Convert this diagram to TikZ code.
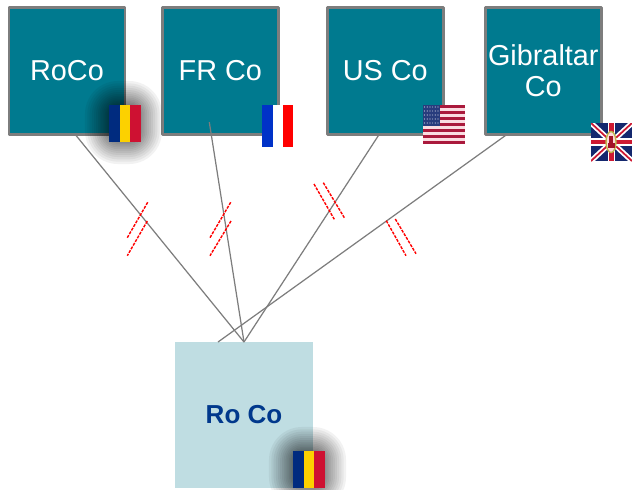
\documentclass[tikz,border=0pt]{standalone}
\usepackage{fontspec}
\setmainfont{Liberation Sans}

\definecolor{tealbox}{RGB}{0,122,143}
\definecolor{palebox}{RGB}{191,221,226}
\definecolor{boxedge}{RGB}{125,125,125}
\definecolor{navytext}{RGB}{0,56,140}
\definecolor{roblue}{RGB}{0,43,127}
\definecolor{royellow}{RGB}{252,209,0}
\definecolor{rored}{RGB}{206,17,50}
\definecolor{frblue}{RGB}{0,50,200}
\definecolor{usred}{RGB}{170,25,60}
\definecolor{uspink}{RGB}{250,220,225}
\definecolor{usnavy}{RGB}{40,60,125}
\definecolor{ukblue}{RGB}{20,40,110}
\definecolor{ukred}{RGB}{205,25,50}

\tikzset{
  company/.style={draw=boxedge, line width=1.5pt, line join=round, fill=tealbox, text=white,
    minimum width=2.32cm, minimum height=2.54cm, inner sep=0pt, outer sep=0pt, align=center,
    font=\fontsize{16.4}{18.2}\selectfont},
  target/.style={fill=palebox, text=navytext, minimum width=2.76cm, minimum height=2.92cm,
    inner sep=0pt, outer sep=0pt, font=\fontsize{14.8}{18}\selectfont\bfseries},
  link/.style={draw=boxedge, line width=0.7pt},
  cut/.style={draw=red, line width=0.8pt, dash pattern=on 1.7pt off 0.7pt}
}

% Romanian flag, top left corner at #1,#2 %
\newcommand{\roflag}[2]{
  \begin{scope}[shift={(#1,#2)}]
    \foreach \r [evaluate=\r as \grow using \r*\r*0.045+\r*0.1] in {1,...,26}
      \fill[black, opacity=0.05, rounded corners=\grow*0.02cm]
        (9-\grow,9-\grow) rectangle (20+\grow,26+\grow);
    \fill[roblue] (0,0) rectangle (10.5,37);
    \fill[royellow] (10.5,0) rectangle (21,37);
    \fill[rored] (21,0) rectangle (31.5,37);
  \end{scope}
}

\begin{document}
\begin{tikzpicture}[x=0.02cm, y=-0.02cm]
  \useasboundingbox (0,0) rectangle (632,490);

  % Boxes %
  \node [company] (roco) at (67,70.7) {RoCo};
  \node [company] (usco) at (385.3,70.7) {US Co};
  \node [company] (gibco) at (543.3,70.7) {Gibraltar\\Co};
  \node [company] (frco) at (220.3,70.7) {FR Co};
  \node [target] (rotarget) at (244,415) {Ro Co};

  % Links %
  \draw [link] ([xshift=0.16cm]roco.south) -- (rotarget.north);
  \draw [link] ([xshift=-0.22cm,yshift=0.24cm]frco.south) -- (rotarget.north);
  \draw [link] ([xshift=-0.12cm]usco.south) -- (rotarget.north);
  \draw [link] ([xshift=-0.72cm]gibco.south) -- ([xshift=-0.52cm]rotarget.north);

  % Cuts %
  \draw [cut] (147.7,202.3) -- (127.3,237.7);
  \draw [cut] (147.3,221) -- (127.3,255.7);
  \draw [cut] (230.7,202.3) -- (210,237.7);
  \draw [cut] (231,221) -- (210,255.7);
  \draw [cut] (314,184) -- (334.3,219.3);
  \draw [cut] (323.3,182.7) -- (344.3,217.7);
  \draw [cut] (386.3,220.7) -- (406,255.7);
  \draw [cut] (395.3,219) -- (416,253.7);

  % Flags %
  \roflag{109}{105}
  \roflag{293}{451}

  \begin{scope}[shift={(262,105)}]
    \fill[frblue] (0,0) rectangle (10.5,42);
    \fill[white] (10.5,0) rectangle (21,42);
    \fill[red] (21,0) rectangle (31,42);
  \end{scope}

  \begin{scope}[shift={(423,105)}]
    \fill[uspink] (0,0) rectangle (42,39);
    \foreach \row in {0,2,...,12}
      \fill[usred] (0,\row*3) rectangle (42,\row*3+3);
    \fill[usnavy] (0,0) rectangle (17,21);
    \foreach \col in {1.5,4.2,...,16}
      \foreach \row in {2,6,...,20}
        \fill[white!75!usnavy] (\col,\row) circle [radius=0.6];
  \end{scope}

  \begin{scope}[shift={(591,123)}]
    \clip (0,0) rectangle (41,38);
    \fill[ukblue] (0,0) rectangle (41,38);
    \draw[white, line width=3pt] (0,0) -- (41,38) (41,0) -- (0,38);
    \draw[ukred, line width=1pt] (0,0) -- (41,38) (41,0) -- (0,38);
    \draw[white, line width=4pt] (20.5,0) -- (20.5,38) (0,19) -- (41,19);
    \draw[ukred, line width=2.6pt] (20.5,0) -- (20.5,38) (0,19) -- (41,19);
    \draw[white!40!olive, line width=0.8pt, fill=white!85!red] (20,19) ellipse [x radius=5, y radius=10.5];
    \fill[ukred!80!black] (18,13) rectangle (22,25);
    \fill[ukred!80!black] (16.5,20) rectangle (23.5,25);
  \end{scope}
\end{tikzpicture}
\end{document}
